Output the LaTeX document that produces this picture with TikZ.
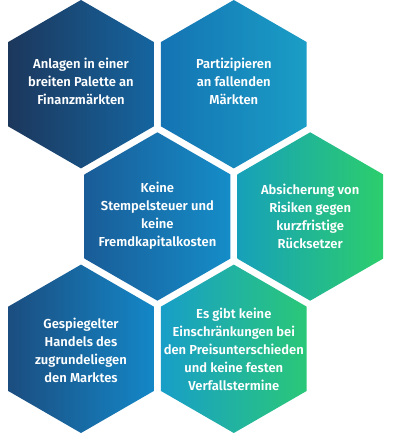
\documentclass[tikz,border=0pt]{standalone}
\usepackage{fontspec}
\setmainfont{Fira Sans}[BoldFont={Fira Sans SemiBold}]
\usetikzlibrary{shapes.geometric}
\definecolor{NavyColor}{RGB}{28,55,92}
\definecolor{DeepBlue}{RGB}{21,101,160}
\definecolor{MidBlue}{RGB}{20,115,179}
\definecolor{LightBlue}{RGB}{26,158,198}
\definecolor{SteelBlue}{RGB}{25,92,152}
\definecolor{SkyBlue}{RGB}{21,141,200}
\definecolor{TealColor}{RGB}{23,160,186}
\definecolor{GreenColor}{RGB}{44,206,108}
\definecolor{DuskBlue}{RGB}{27,77,128}
\definecolor{OceanBlue}{RGB}{20,135,199}
\definecolor{CyanColor}{RGB}{24,158,200}
\definecolor{MintColor}{RGB}{42,200,120}
\tikzset{
  hexcell/.style={regular polygon, regular polygon sides=6, shape border rotate=30,
    minimum size=168.4pt, inner sep=0pt, outer sep=0pt},
  celltext/.style={text=white, align=center, font=\bfseries\fontsize{13}{18}\selectfont}
}
\begin{document}
\begin{tikzpicture}[x=1pt, y=-1pt]
    \useasboundingbox (0,0) rectangle (400,433);
    \fill[white] (0,0) rectangle (400,433);

    % Top row
    \node[hexcell, left color=NavyColor, right color=DeepBlue] (anlagen) at (81,84.2) {};
    \node[celltext] (anlagentext) at ([yshift=3pt]anlagen.center) {Anlagen in einer\\breiten Palette an\\Finanzmärkten};
    \node[hexcell, left color=MidBlue, right color=LightBlue] (fallend) at (233.8,84.2) {};
    \node[celltext] (fallendtext) at ([yshift=3pt]fallend.center) {Partizipieren\\an fallenden\\Märkten};

    % Middle row
    \node[hexcell, left color=SteelBlue, right color=SkyBlue] (steuer) at (157.4,216.5) {};
    \node[celltext] (steuertext) at ([yshift=1pt]steuer.center) {Keine\\Stempelsteuer und\\keine\\Fremdkapitalkosten};
    \node[hexcell, left color=TealColor, right color=GreenColor] (absicherung) at (310.2,216.5) {};
    \node[celltext] (absicherungtext) at ([yshift=0pt]absicherung.center) {Absicherung von\\Risiken gegen\\kurzfristige\\Rücksetzer};

    % Bottom row
    \node[hexcell, left color=DuskBlue, right color=OceanBlue] (handel) at (81,348.8) {};
    \node[celltext] (handeltext) at ([yshift=-2pt]handel.center) {Gespiegelter\\Handels des\\zugrundeliegen\\den Marktes};
    \node[hexcell, left color=CyanColor, right color=MintColor] (termine) at (233.8,348.8) {};
    \node[celltext] (terminetext) at ([yshift=-1pt]termine.center) {Es gibt keine\\Einschränkungen bei\\den Preisunterschieden\\und keine festen\\Verfallstermine};
\end{tikzpicture}
\end{document}
